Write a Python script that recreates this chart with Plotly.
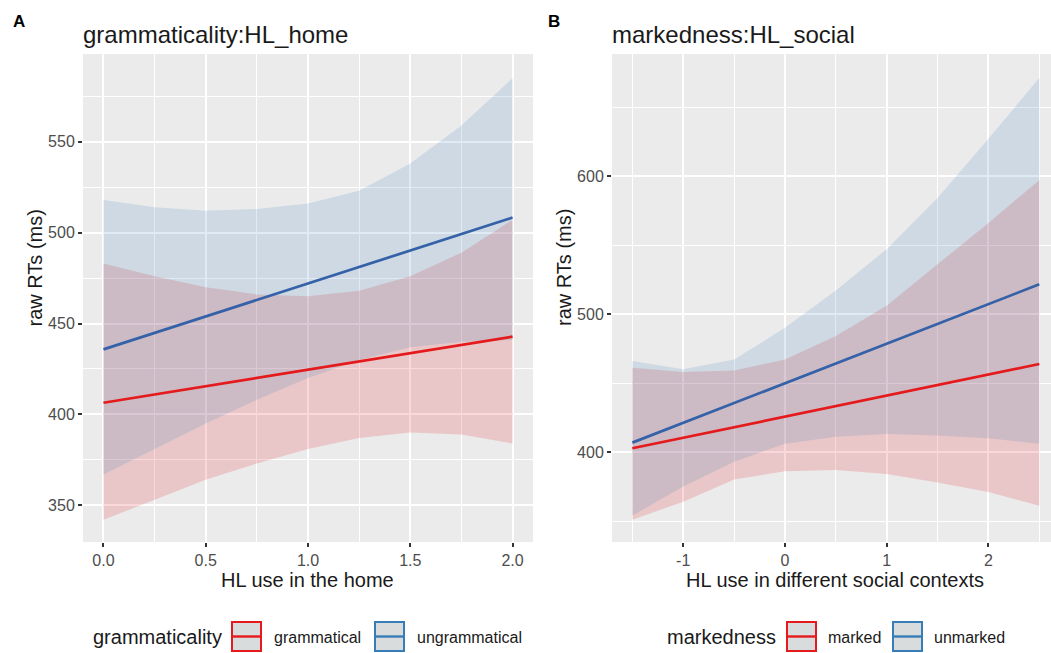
import plotly.graph_objects as go

W, H = 1051, 653

# ---------------- data: panel A (grammaticality:HL_home) ----------------
home_x = [0.0, 0.25, 0.5, 0.75, 1.0, 1.25, 1.5, 1.75, 2.0]
gram_fit = [406.4, 410.9, 415.5, 420.0, 424.6, 429.1, 433.7, 438.2, 442.8]
gram_hi = [483, 476, 470, 466, 465, 468, 476, 489, 507]
gram_lo = [342, 353, 364, 373, 381, 387, 390, 389, 384]
ungram_fit = [435.8, 444.9, 453.9, 463.0, 472.0, 481.1, 490.2, 499.2, 508.3]
ungram_hi = [518, 514, 512, 513, 516, 523, 538, 559, 585]
ungram_lo = [367, 381, 395, 408, 420, 430, 437, 440, 441]

# ---------------- data: panel B (markedness:HL_social) ----------------
social_x = [-1.5, -1.0, -0.5, 0.0, 0.5, 1.0, 1.5, 2.0, 2.5]
marked_fit = [402.7, 410.3, 418.0, 425.6, 433.2, 440.9, 448.5, 456.2, 463.8]
marked_hi = [461, 458, 459, 467, 484, 506, 536, 566, 597]
marked_lo = [351, 364, 380, 386, 387, 384, 378, 371, 361]
unmarked_fit = [406.8, 421.1, 435.5, 449.8, 464.2, 478.5, 492.8, 507.2, 521.5]
unmarked_hi = [466, 460, 467, 490, 517, 547, 584, 627, 671]
unmarked_lo = [354, 375, 393, 406, 411, 413, 412, 410, 406]

home_ticks = [0.0, 0.5, 1.0, 1.5, 2.0]
home_ticktext = ["0.0", "0.5", "1.0", "1.5", "2.0"]
home_minor = [0.25, 0.75, 1.25, 1.75]
homeY_ticks = [350, 400, 450, 500, 550]
homeY_minor = [375, 425, 475, 525, 575]
social_ticks = [-1, 0, 1, 2]
social_ticktext = ["-1", "0", "1", "2"]
social_minor = [-1.5, -0.5, 0.5, 1.5, 2.5]
socialY_ticks = [400, 500, 600]
socialY_minor = [350, 450, 550, 650]

RED = "#E41A1C"
BLUE = "#377EB8"
BLUE_LINE = "#3461A8"
RED_FILL = "rgba(228,26,28,0.17)"
BLUE_FILL = "rgba(55,126,184,0.16)"
FONT = "Liberation Sans, Arial, Helvetica, sans-serif"

fig = go.Figure()


def add_ribbon(x, lo, hi, fill, xa, ya):
    fig.add_trace(go.Scatter(x=x, y=lo, mode="lines", line=dict(width=0, color=fill),
                             hoverinfo="skip", showlegend=False, xaxis=xa, yaxis=ya))
    fig.add_trace(go.Scatter(x=x, y=hi, mode="lines", line=dict(width=0, color=fill),
                             fill="tonexty", fillcolor=fill, hoverinfo="skip",
                             showlegend=False, xaxis=xa, yaxis=ya))


def add_line(x, y, color, name, xa, ya):
    fig.add_trace(go.Scatter(x=x, y=y, mode="lines", line=dict(width=2.7, color=color),
                             name=name, showlegend=False, xaxis=xa, yaxis=ya))


add_ribbon(home_x, gram_lo, gram_hi, RED_FILL, "x", "y")
add_ribbon(home_x, ungram_lo, ungram_hi, BLUE_FILL, "x", "y")
add_line(home_x, gram_fit, RED, "grammatical", "x", "y")
add_line(home_x, ungram_fit, BLUE_LINE, "ungrammatical", "x", "y")

add_ribbon(social_x, marked_lo, marked_hi, RED_FILL, "x2", "y2")
add_ribbon(social_x, unmarked_lo, unmarked_hi, BLUE_FILL, "x2", "y2")
add_line(social_x, marked_fit, RED, "marked", "x2", "y2")
add_line(social_x, unmarked_fit, BLUE_LINE, "unmarked", "x2", "y2")

ydom = [1 - 542 / H, 1 - 54 / H]


def axis_common(tickvals, minorvals):
    return dict(
        tickvals=tickvals, showgrid=True, gridcolor="white", gridwidth=2,
        minor=dict(tickvals=minorvals, showgrid=True, gridcolor="white", gridwidth=1, ticks=""),
        ticks="outside", ticklen=4, tickwidth=1.5, tickcolor="#333333",
        tickfont=dict(size=16, color="#4D4D4D", family=FONT),
        zeroline=False, showline=False, fixedrange=True,
    )


xa = axis_common(home_ticks, home_minor)
xa.update(domain=[83 / W, 533 / W], range=[-0.1, 2.1], ticktext=home_ticktext, anchor="y")
ya = axis_common(homeY_ticks, homeY_minor)
ya.update(domain=ydom, range=[329.8, 598.3], anchor="x")
xb = axis_common(social_ticks, social_minor)
xb.update(domain=[612 / W, 1.0], range=[-1.7, 2.615], ticktext=social_ticktext, anchor="y2")
yb = axis_common(socialY_ticks, socialY_minor)
yb.update(domain=ydom, range=[334.8, 688.4], anchor="x2")

fig.update_layout(
    width=W, height=H, margin=dict(l=0, r=0, t=0, b=0),
    paper_bgcolor="white", plot_bgcolor="#EBEBEB",
    font=dict(family=FONT, color="#1A1A1A"),
    xaxis=xa, yaxis=ya, xaxis2=xb, yaxis2=yb, showlegend=False,
)

ann = []


def text(x, y, s, size, color="#1A1A1A", xanchor="left", angle=0, bold=False):
    ann.append(dict(x=x / W, y=1 - y / H, xref="paper", yref="paper", text=("<b>%s</b>" % s) if bold else s,
                    showarrow=False, xanchor=xanchor, yanchor="middle", textangle=angle,
                    font=dict(size=size, color=color, family=FONT)))


text(11, 21, "A", 17, "#000000", bold=True)
text(546, 21, "B", 17, "#000000", bold=True)
text(81, 34, "grammaticality:HL_home", 24)
text(610, 34, "markedness:HL_social", 24)
text(307.5, 580, "HL use in the home", 20, xanchor="center")
text(835, 580, "HL use in different social contexts", 20, xanchor="center")
text(34.5, 268, "raw RTs (ms)", 20, xanchor="center", angle=-90)
text(564, 268, "raw RTs (ms)", 20, xanchor="center", angle=-90)

shapes = []


def key(x0, color, y0=622, size=29):
    shapes.append(dict(type="rect", xref="paper", yref="paper", x0=x0 / W, x1=(x0 + size) / W,
                       y0=1 - (y0 + size) / H, y1=1 - y0 / H, fillcolor="#D9DCDD",
                       line=dict(color=color, width=2)))
    shapes.append(dict(type="line", xref="paper", yref="paper", x0=x0 / W, x1=(x0 + size) / W,
                       y0=1 - (y0 + size / 2) / H, y1=1 - (y0 + size / 2) / H,
                       line=dict(color=color, width=2.4)))


text(91, 637, "grammaticality", 20)
key(232, RED)
text(272, 637, "grammatical", 16)
key(375, BLUE)
text(415, 637, "ungrammatical", 16)

text(665, 637, "markedness", 20)
key(787, RED)
text(826, 637, "marked", 16)
key(893, BLUE)
text(932, 637, "unmarked", 16)

fig.update_layout(annotations=ann, shapes=shapes)
fig.write_html("out.html")
